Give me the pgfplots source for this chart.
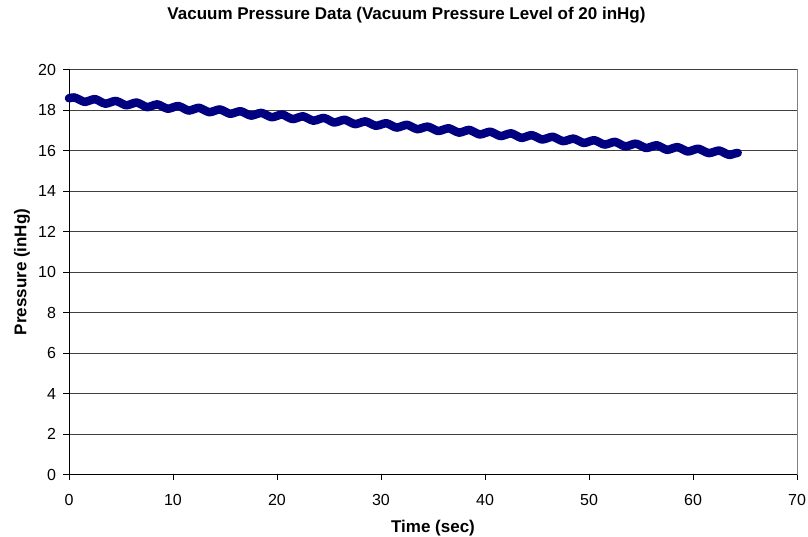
\documentclass[border=0pt]{standalone}
\usepackage{fontspec}
\setmainfont{Liberation Sans}
\usepackage{pgfplots}
\pgfplotsset{compat=1.18}
\definecolor{navyline}{RGB}{0,0,128}

\begin{document}
\begin{tikzpicture}
\useasboundingbox (-69pt,-61.5pt) rectangle (739pt,474.5pt);
\begin{axis}[
  scale only axis,
  width=728pt, height=405pt,
  xmin=0, xmax=70, ymin=0, ymax=20,
  xtick={0,10,...,70}, ytick={0,2,...,20},
  axis x line*=bottom, axis y line*=left,
  axis line style={black, line width=0.8pt},
  tick align=outside, major tick length=5.5pt,
  tick style={black, line width=0.8pt},
  ymajorgrids,
  major grid style={black!75, line width=0.8pt},
  extra x ticks={70}, extra x tick labels={},
  extra x tick style={xmajorgrids, major grid style={gray, line width=0.8pt}, major tick length=0pt},
  /pgf/number format/assume math mode=true,
  tick label style={font=\fontsize{16}{19}\selectfont},
  xticklabel style={yshift=-11pt},
  yticklabel style={xshift=-4pt},
  title={Vacuum Pressure Data (Vacuum Pressure Level of 20 inHg)},
  title style={font=\bfseries\fontsize{17}{20}\selectfont, at={(axis description cs:0.4636,1.1074)}, anchor=base},
  xlabel={Time (sec)},
  xlabel style={font=\bfseries\fontsize{17}{20}\selectfont, at={(axis description cs:0.5,-0.1320)}, anchor=center},
  ylabel={Pressure (inHg)},
  ylabel style={font=\bfseries\fontsize{17}{20}\selectfont, at={(axis description cs:-0.0645,0.5)}, anchor=center, rotate=0},
  clip=false,
]
\addplot[color=navyline, line width=8.5pt, smooth, line cap=round, line join=round] coordinates {
(0,18.58) (0.5,18.62) (1,18.51) (1.5,18.40) (2,18.47) (2.5,18.54) (3,18.42) (3.5,18.31)
(4,18.38) (4.5,18.45) (5,18.34) (5.5,18.23) (6,18.30) (6.5,18.37) (7,18.26) (7.5,18.14)
(8,18.21) (8.5,18.28) (9,18.17) (9.5,18.06) (10,18.13) (10.5,18.20) (11,18.09) (11.5,17.97)
(12,18.04) (12.5,18.11) (13,18.00) (13.5,17.89) (14,17.96) (14.5,18.03) (15,17.92) (15.5,17.81)
(16,17.88) (16.5,17.94) (17,17.83) (17.5,17.72) (18,17.79) (18.5,17.86) (19,17.75) (19.5,17.64)
(20,17.71) (20.5,17.78) (21,17.66) (21.5,17.55) (22,17.62) (22.5,17.69) (23,17.58) (23.5,17.47)
(24,17.54) (24.5,17.61) (25,17.50) (25.5,17.38) (26,17.45) (26.5,17.52) (27,17.41) (27.5,17.30)
(28,17.37) (28.5,17.44) (29,17.33) (29.5,17.22) (30,17.28) (30.5,17.35) (31,17.24) (31.5,17.13)
(32,17.20) (32.5,17.27) (33,17.16) (33.5,17.05) (34,17.12) (34.5,17.18) (35,17.07) (35.5,16.96)
(36,17.03) (36.5,17.10) (37,16.99) (37.5,16.88) (38,16.95) (38.5,17.02) (39,16.90) (39.5,16.79)
(40,16.86) (40.5,16.93) (41,16.82) (41.5,16.71) (42,16.78) (42.5,16.85) (43,16.74) (43.5,16.62)
(44,16.69) (44.5,16.76) (45,16.65) (45.5,16.54) (46,16.61) (46.5,16.68) (47,16.57) (47.5,16.46)
(48,16.52) (48.5,16.59) (49,16.48) (49.5,16.37) (50,16.44) (50.5,16.51) (51,16.40) (51.5,16.29)
(52,16.36) (52.5,16.43) (53,16.31) (53.5,16.20) (54,16.27) (54.5,16.34) (55,16.23) (55.5,16.12)
(56,16.19) (56.5,16.26) (57,16.15) (57.5,16.03) (58,16.10) (58.5,16.17) (59,16.06) (59.5,15.95)
(60,16.02) (60.5,16.09) (61,15.98) (61.5,15.87) (62,15.93) (62.5,16.00) (63,15.89) (63.5,15.78)
(64,15.85) (64.3,15.88)
};
\end{axis}
\end{tikzpicture}
\end{document}
